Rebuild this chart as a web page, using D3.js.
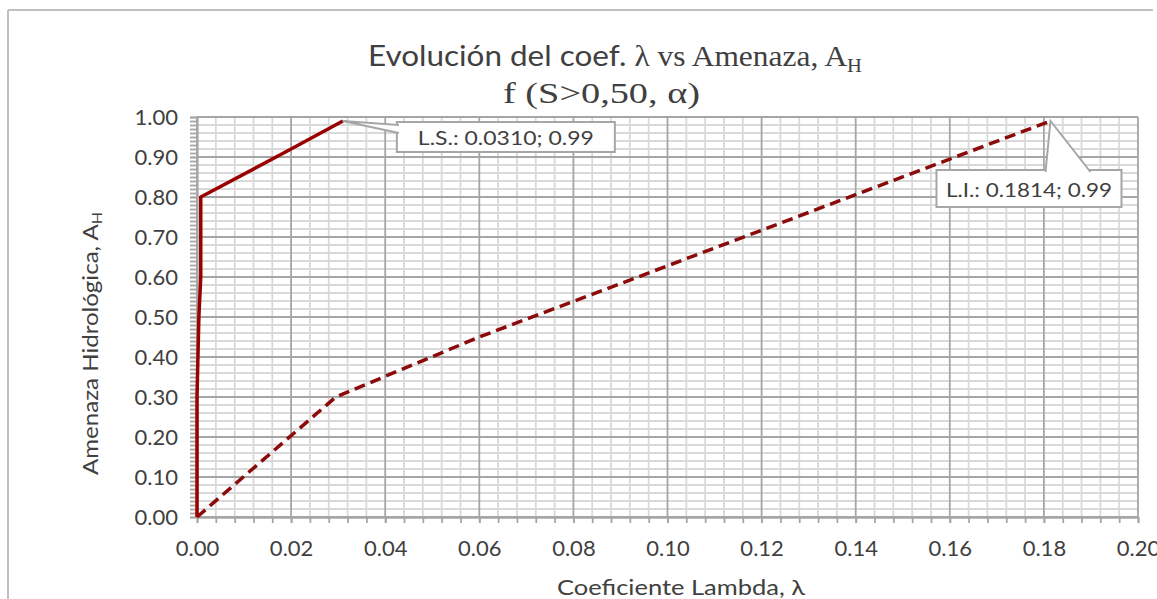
<!DOCTYPE html>
<html><head><meta charset="utf-8">
<script src="https://cdn.jsdelivr.net/npm/d3@7"></script>
<style>body{margin:0;background:#fff;overflow:hidden} svg{display:block}</style>
</head><body>
<svg id="c" width="1157" height="599"></svg>
<script>
// ---- data ----
const lambdaLS = [0, 0.0000, 0.0004, 0.0008, 0.0008, 0.0200, 0.0310];
const ahLS     = [0, 0.30,   0.50,   0.60,   0.80,   0.92,   0.99];
const lambdaLI = [0, 0.0295, 0.0600, 0.1814];
const ahLI     = [0, 0.30,   0.45,   0.99];
const xTickValues = [0, 0.02, 0.04, 0.06, 0.08, 0.10, 0.12, 0.14, 0.16, 0.18, 0.20];
const yTickValues = [0, 0.1, 0.2, 0.3, 0.4, 0.5, 0.6, 0.7, 0.8, 0.9, 1.0];
const annLabels = ["L.S.: 0.0310; 0.99", "L.I.: 0.1814; 0.99"];
const annX = [0.0310, 0.1814];
const annY = [0.99, 0.99];

// ---- layout ----
const svg = d3.select("#c");
const x = d3.scaleLinear().domain([0, 0.2]).range([197, 1138]);
const y = d3.scaleLinear().domain([0, 1]).range([517, 117]);
const sans = "Lato, 'Open Sans', sans-serif";
const serif = "'Liberation Serif', 'DejaVu Serif', serif";
const txt = "#404040";

// outer chart border (top & left)
svg.append("line").attr("x1", 8).attr("x2", 1153).attr("y1", 10).attr("y2", 10)
  .attr("stroke", "#bfbfbf").attr("stroke-width", 2);
svg.append("line").attr("x1", 8).attr("x2", 8).attr("y1", 10).attr("y2", 599)
  .attr("stroke", "#bfbfbf").attr("stroke-width", 2);

// gridlines
const eps = 1e-9;
const minorX = d3.range(0, 0.2 + eps, 0.004).filter(v => Math.abs(v / 0.02 - Math.round(v / 0.02)) > 1e-6);
const minorY = d3.range(0, 1 + eps, 0.02).filter(v => Math.abs(v / 0.1 - Math.round(v / 0.1)) > 1e-6);
const g = svg.append("g");
g.selectAll(".mx").data(minorX).join("line")
  .attr("x1", d => x(d)).attr("x2", d => x(d)).attr("y1", y(1)).attr("y2", y(0))
  .attr("stroke", "#d9d9d9").attr("stroke-width", 1.8);
g.selectAll(".my").data(minorY).join("line")
  .attr("x1", x(0)).attr("x2", x(0.2)).attr("y1", d => y(d)).attr("y2", d => y(d))
  .attr("stroke", "#d9d9d9").attr("stroke-width", 1.8);
g.selectAll(".Mx").data(xTickValues).join("line")
  .attr("x1", d => x(d)).attr("x2", d => x(d)).attr("y1", y(1)).attr("y2", y(0))
  .attr("stroke", "#a6a6a6").attr("stroke-width", 1.8);
g.selectAll(".My").data(yTickValues).join("line")
  .attr("x1", x(0)).attr("x2", x(0.2)).attr("y1", d => y(d)).attr("y2", d => y(d))
  .attr("stroke", "#a6a6a6").attr("stroke-width", 1.8);

// axes
const styleAxis = sel => {
  sel.selectAll("path, line").attr("stroke", "#a6a6a6").attr("stroke-width", 1.8);
  sel.selectAll("text").attr("fill", txt).style("font-family", sans).style("font-size", "22px");
};
const yMinorTicks = d3.range(0, 1 + eps, 0.01);
svg.append("g").attr("transform", `translate(${x(0)},0)`)
  .call(d3.axisLeft(y).tickValues(yMinorTicks).tickSize(7).tickFormat("").tickSizeOuter(0))
  .call(styleAxis);
svg.append("g").attr("transform", `translate(${x(0)},0)`)
  .call(d3.axisLeft(y).tickValues(yTickValues).tickSize(7).tickPadding(12).tickFormat(d3.format(".2f")).tickSizeOuter(0))
  .call(styleAxis);
const xMinorTicks = d3.range(0, 0.2 + eps, 0.004);
svg.append("g").attr("transform", `translate(0,${y(0)})`)
  .call(d3.axisBottom(x).tickValues(xMinorTicks).tickSize(6).tickFormat("").tickSizeOuter(0))
  .call(styleAxis);
svg.append("g").attr("transform", `translate(0,${y(0)})`)
  .call(d3.axisBottom(x).tickValues(xTickValues).tickSize(6).tickPadding(17).tickFormat(d3.format(".2f")).tickSizeOuter(0))
  .call(styleAxis);

// series
const lineGen = d3.line().x(d => x(d[0])).y(d => y(d[1]));
const ls = lambdaLS.map((v, i) => [v, ahLS[i]]);
const li = lambdaLI.map((v, i) => [v, ahLI[i]]);
svg.append("path").datum(li).attr("d", lineGen)
  .attr("fill", "none").attr("stroke", "#8b0a0a").attr("stroke-width", 3.5)
  .attr("stroke-linejoin", "round").attr("stroke-dasharray", "11,6");
svg.append("path").datum(ls).attr("d", lineGen)
  .attr("fill", "none").attr("stroke", "#9a0000").attr("stroke-width", 3.5)
  .attr("stroke-linejoin", "round");

// annotations (callouts)
const annG = svg.append("g");
// L.S.
{
  const px = x(annX[0]), py = y(annY[0]);
  const bx = px + 54, by = py + 1, bw = 218, bh = 30;
  annG.append("rect").attr("x", bx).attr("y", by).attr("width", bw).attr("height", bh)
    .attr("fill", "#fff").attr("stroke", "#a6a6a6").attr("stroke-width", 2);
  annG.append("path").attr("d", `M${bx + 2},${by + 3} L${px},${py} L${bx + 2},${by + 11}`)
    .attr("fill", "#fff").attr("stroke", "#a6a6a6").attr("stroke-width", 2);
  annG.append("text").attr("x", bx + bw / 2).attr("y", by + 23).attr("text-anchor", "middle")
    .attr("textLength", 176).attr("lengthAdjust", "spacingAndGlyphs")
    .style("font-family", sans).style("font-size", "20px").attr("fill", txt).text(annLabels[0]);
}
// L.I.
{
  const px = x(annX[1]), py = y(annY[1]);
  const bx = px - 114, by = py + 49, bw = 185, bh = 37;
  annG.append("rect").attr("x", bx).attr("y", by).attr("width", bw).attr("height", bh)
    .attr("fill", "#fff").attr("stroke", "#a6a6a6").attr("stroke-width", 2);
  annG.append("path").attr("d", `M${px - 5},${by + 2} L${px},${py} L${px + 40},${by + 2}`)
    .attr("fill", "#fff").attr("stroke", "#a6a6a6").attr("stroke-width", 2);
  annG.append("text").attr("x", bx + bw / 2).attr("y", by + 27).attr("text-anchor", "middle")
    .attr("textLength", 166).attr("lengthAdjust", "spacingAndGlyphs")
    .style("font-family", sans).style("font-size", "20px").attr("fill", txt).text(annLabels[1]);
}

// titles
const t = svg.append("text").attr("x", 368).attr("y", 66).attr("fill", txt)
  .attr("textLength", 494).attr("lengthAdjust", "spacingAndGlyphs")
  .style("font-size", "29px");
t.append("tspan").style("font-family", sans).text("Evolución del coef. ");
t.append("tspan").style("font-family", serif).text("λ vs Amenaza, A");
t.append("tspan").style("font-family", serif).style("font-size", "19px").attr("dy", 6).text("H");

svg.append("text").attr("x", 503).attr("y", 103).attr("fill", txt)
  .attr("textLength", 197).attr("lengthAdjust", "spacingAndGlyphs")
  .style("font-family", serif).style("font-size", "29px").text("f (S>0,50, α)");

// axis titles
const yt = svg.append("text").attr("transform", "translate(98,475) rotate(-90)")
  .attr("fill", txt).attr("textLength", 263).attr("lengthAdjust", "spacingAndGlyphs")
  .style("font-family", sans).style("font-size", "21px");
yt.append("tspan").text("Amenaza Hidrológica, A");
yt.append("tspan").style("font-size", "14px").attr("dy", 4).text("H");

svg.append("text").attr("x", 557).attr("y", 595).attr("fill", txt)
  .attr("textLength", 248).attr("lengthAdjust", "spacingAndGlyphs")
  .style("font-family", sans).style("font-size", "21px").text("Coeficiente Lambda, λ");
</script>
</body></html>
